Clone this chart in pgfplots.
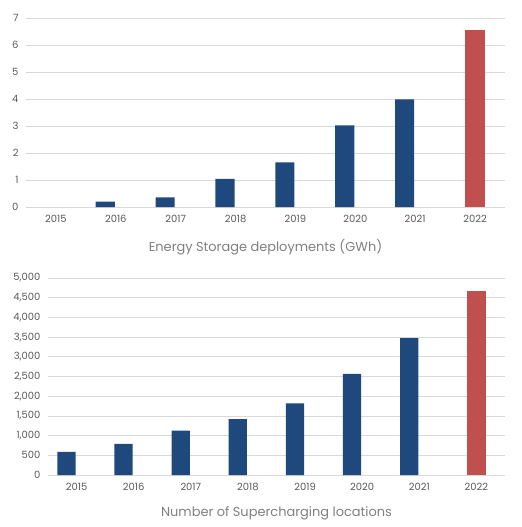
\documentclass[border=0pt]{standalone}
\usepackage{fontspec}
\setmainfont{Poppins}
\usepackage{pgfplots}
\pgfplotsset{compat=1.18}
\definecolor{barblue}{HTML}{1F497D}
\definecolor{barred}{HTML}{C0504D}
\definecolor{gridgray}{HTML}{D9D9D9}
\definecolor{ticktext}{HTML}{595959}
\definecolor{titletext}{HTML}{7F7F7F}

\pgfplotsset{
  teslabars/.style={
    scale only axis,
    anchor=south west,
    ybar, bar width=0.32,
    xmin=-0.5, xmax=7.5, ymin=0,
    xtick={0,...,7},
    xticklabels={2015,2016,2017,2018,2019,2020,2021,2022},
    axis x line*=bottom, axis y line*=left,
    x axis line style={gridgray, line width=0.8pt},
    y axis line style={draw=none},
    ymajorgrids, grid style={gridgray, line width=0.8pt},
    major tick length=0pt,
    tick label style={font=\fontsize{10}{12}\selectfont, text=ticktext},
    /pgf/number format/assume math mode=true,
    /pgf/number format/1000 sep={,},
    xticklabel style={yshift=-5bp},
    yticklabel style={xshift=-4bp},
    xlabel style={at={(axis description cs:0.5,0)}, anchor=center,
      font=\fontsize{13}{15}\selectfont, text=titletext},
    clip=false,
  },
}

\begin{document}
\begin{tikzpicture}
\useasboundingbox (0,0) rectangle (522bp,-527bp);

\begin{axis}[teslabars,
  at={(26bp,-207bp)}, width=479bp, height=189bp,
  ymax=7, ytick={0,...,7},
  xlabel={Energy Storage deployments (GWh)},
  xlabel style={yshift=-40bp},
]
\addplot[fill=barblue, draw=none] coordinates {
  (1,0.20) (2,0.36) (3,1.04) (4,1.65) (5,3.02) (6,3.99)
};
\addplot[fill=barred, draw=none, bar shift=0pt] coordinates {(7,6.54)};
\end{axis}

\begin{axis}[teslabars,
  at={(48bp,-475bp)}, width=457bp, height=197bp,
  ymax=5000, ytick={0,500,...,5000},
  xlabel={Number of Supercharging locations},
  xlabel style={yshift=-38bp},
]
\addplot[fill=barblue, draw=none] coordinates {
  (0,584) (1,790) (2,1128) (3,1421) (4,1821) (5,2564) (6,3476)
};
\addplot[fill=barred, draw=none, bar shift=0pt] coordinates {(7,4678)};
\end{axis}
\end{tikzpicture}
\end{document}
